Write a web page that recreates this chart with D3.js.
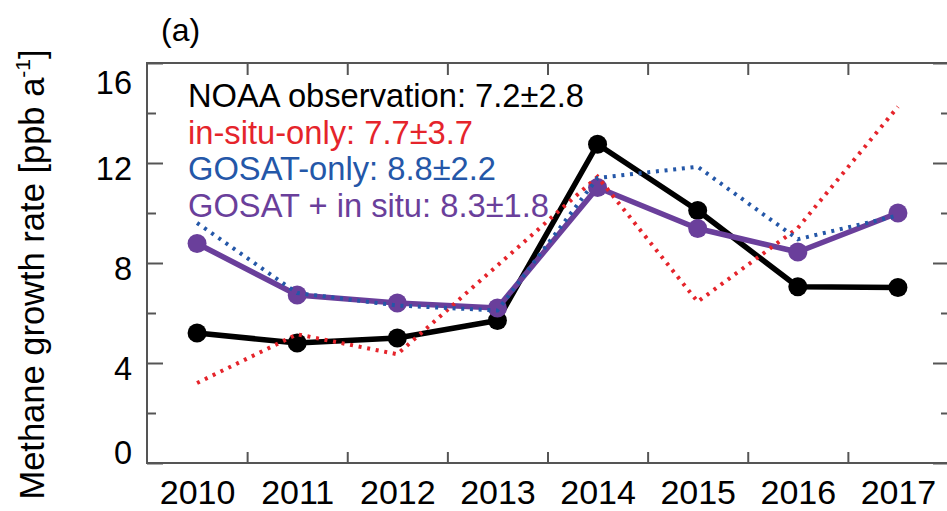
<!DOCTYPE html>
<html>
<head>
<meta charset="utf-8">
<script src="https://cdn.jsdelivr.net/npm/d3@7"></script>
<style>
  html, body { margin: 0; padding: 0; background: #fff; }
  svg { display: block; font-family: "Liberation Sans", Arial, Helvetica, sans-serif; }
</style>
</head>
<body>
<svg id="chart" width="947" height="511"></svg>
<script>
// Annual methane growth rates (ppb per year)
const years = [2010, 2011, 2012, 2013, 2014, 2015, 2016, 2017];
const noaa = [5.2, 4.8, 5.0, 5.7, 12.75, 10.1, 7.05, 7.02];
const insituOnly = [3.2, 5.15, 4.35, 7.9, 11.45, 6.45, 9.4, 14.25];
const gosatOnly = [9.6, 6.8, 6.3, 6.1, 11.4, 11.85, 8.95, 9.9];
const gosatInsitu = [8.78, 6.72, 6.4, 6.2, 11.02, 9.38, 8.44, 10.0];

const yMajorTicks = [0, 4, 8, 12, 16];
const yMinorTicks = [2, 6, 10, 14];
const xBoundaryTicks = [2010.5, 2011.5, 2012.5, 2013.5, 2014.5, 2015.5, 2016.5];

const legendLines = [
  { text: "NOAA observation: 7.2\u00b12.8", color: "#000000" },
  { text: "in-situ-only: 7.7\u00b13.7", color: "#e5242b" },
  { text: "GOSAT-only: 8.8\u00b12.2", color: "#2457a8" },
  { text: "GOSAT + in situ: 8.3\u00b11.8", color: "#6a3f9b" }
];

const svg = d3.select("#chart");
const plotLeft = 147, plotRight = 948, plotTop = 63, plotBottom = 463;

const x = d3.scaleLinear().domain([2009.5, 2017.5]).range([plotLeft, plotRight]);
const y = d3.scaleLinear().domain([0, 16]).range([plotBottom, plotTop]);

const axisColor = "#555";

// Frame
svg.append("rect")
  .attr("x", plotLeft).attr("y", plotTop)
  .attr("width", plotRight - plotLeft).attr("height", plotBottom - plotTop)
  .attr("fill", "none").attr("stroke", axisColor).attr("stroke-width", 2);

// Left axis: major and minor ticks pointing inward
const gLeft = svg.append("g").attr("transform", `translate(${plotLeft},0)`);
gLeft.call(d3.axisRight(y).tickValues(yMajorTicks).tickSize(16).tickFormat(""));
gLeft.append("g").call(d3.axisRight(y).tickValues(yMinorTicks).tickSize(9).tickFormat(""));
gLeft.selectAll(".domain").remove();
gLeft.selectAll("line").attr("stroke", axisColor).attr("stroke-width", 2);

// Right axis ticks pointing inward
const gRight = svg.append("g").attr("transform", `translate(${plotRight},0)`);
gRight.call(d3.axisLeft(y).tickValues(yMajorTicks).tickSize(15).tickFormat(""));
gRight.append("g").call(d3.axisLeft(y).tickValues(yMinorTicks).tickSize(7).tickFormat(""));
gRight.selectAll(".domain").remove();
gRight.selectAll("line").attr("stroke", axisColor).attr("stroke-width", 2);

// Bottom and top ticks between the years
const gBottom = svg.append("g").attr("transform", `translate(0,${plotBottom})`);
gBottom.call(d3.axisTop(x).tickValues(xBoundaryTicks).tickSize(11).tickFormat(""));
gBottom.selectAll(".domain").remove();
gBottom.selectAll("line").attr("stroke", axisColor).attr("stroke-width", 2);

const gTop = svg.append("g").attr("transform", `translate(0,${plotTop})`);
gTop.call(d3.axisBottom(x).tickValues(xBoundaryTicks).tickSize(12).tickFormat(""));
gTop.selectAll(".domain").remove();
gTop.selectAll("line").attr("stroke", axisColor).attr("stroke-width", 2);

// Year labels under each year
const gXLabels = svg.append("g").attr("transform", `translate(0,${plotBottom})`);
gXLabels.call(d3.axisBottom(x).tickValues(years).tickSize(0).tickPadding(0).tickFormat(d3.format("d")));
gXLabels.selectAll(".domain").remove();
gXLabels.selectAll("text")
  .attr("y", 41).attr("dy", 0)
  .attr("font-size", 34).attr("fill", "#000")
  .attr("font-family", "'Liberation Sans', Arial, sans-serif");

// Value labels on the left; end labels pulled inside the frame
const yLabelShift = { 0: -11, 16: 19 };
const gYLabels = svg.append("g").attr("transform", `translate(${plotLeft},0)`);
gYLabels.call(d3.axisLeft(y).tickValues(yMajorTicks).tickSize(0).tickPadding(15).tickFormat(d3.format("d")));
gYLabels.selectAll(".domain").remove();
gYLabels.selectAll("text")
  .attr("dy", d => (11 + (yLabelShift[d] !== undefined ? yLabelShift[d] : 5)) + "px")
  .attr("font-size", 32.5).attr("fill", "#000")
  .attr("font-family", "'Liberation Sans', Arial, sans-serif");

// Axis title
const title = svg.append("text")
  .attr("transform", `translate(44,${(52 + 497) / 2}) rotate(-90)`)
  .attr("text-anchor", "middle")
  .attr("font-size", 34.5).attr("fill", "#000");
title.append("tspan").text("Methane growth rate [ppb a");
title.append("tspan").attr("font-size", 21).attr("dy", -14).text("-1");
title.append("tspan").attr("dy", 14).text("]");

// Panel tag
svg.append("text").attr("x", 161).attr("y", 41)
  .attr("font-size", 32).attr("fill", "#000").text("(a)");

// Series lines
const line = d3.line().x((d, i) => x(years[i])).y(d => y(d)).curve(d3.curveLinear);

svg.append("path").datum(noaa)
  .attr("d", line).attr("fill", "none")
  .attr("stroke", "#000").attr("stroke-width", 5.5).attr("stroke-linejoin", "round");
svg.append("g").selectAll("circle").data(noaa).join("circle")
  .attr("cx", (d, i) => x(years[i])).attr("cy", d => y(d)).attr("r", 9.5).attr("fill", "#000");

svg.append("path").datum(gosatInsitu)
  .attr("d", line).attr("fill", "none")
  .attr("stroke", "#6a3f9b").attr("stroke-width", 5.5).attr("stroke-linejoin", "round");
svg.append("g").selectAll("circle").data(gosatInsitu).join("circle")
  .attr("cx", (d, i) => x(years[i])).attr("cy", d => y(d)).attr("r", 9.5).attr("fill", "#6a3f9b");

svg.append("path").datum(insituOnly)
  .attr("d", line).attr("fill", "none")
  .attr("stroke", "#e5242b").attr("stroke-width", 4)
  .attr("stroke-dasharray", "3,5.7");

svg.append("path").datum(gosatOnly)
  .attr("d", line).attr("fill", "none")
  .attr("stroke", "#2457a8").attr("stroke-width", 4)
  .attr("stroke-dasharray", "3,5.7");

// Legend text block
svg.append("g").selectAll("text").data(legendLines).join("text")
  .attr("x", 188).attr("y", (d, i) => 107 + i * 36.5)
  .attr("font-size", 32.7).attr("fill", d => d.color)
  .text(d => d.text);
</script>
</body>
</html>
